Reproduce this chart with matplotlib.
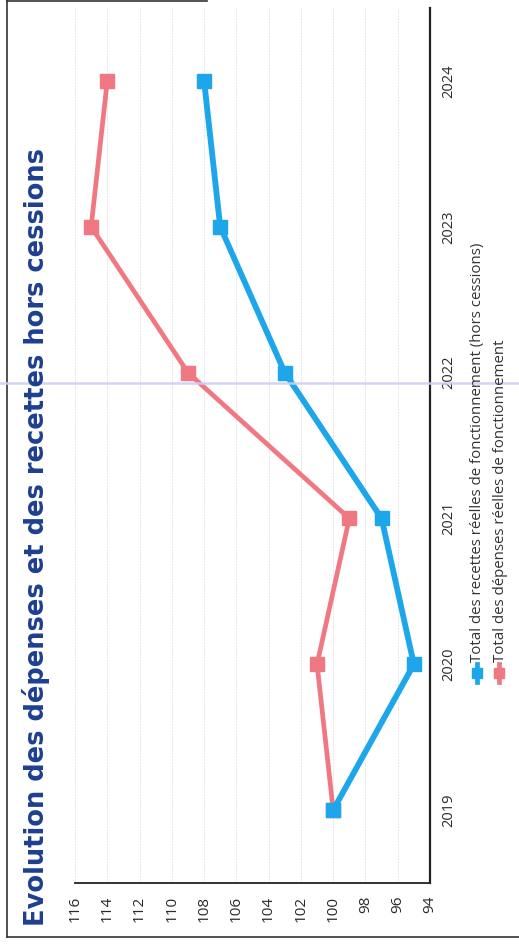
import numpy as np
import matplotlib
matplotlib.use("Agg")
import matplotlib.pyplot as plt
from matplotlib.lines import Line2D

# Evolution des recettes / depenses de fonctionnement (page tournee a 90 degres)
annees = ["2019", "2020", "2021", "2022", "2023", "2024"]
recettes = [100, 95, 97, 103, 107, 108]
depenses = [100, 101, 99, 109, 115, 114]
graduations = [94, 96, 98, 100, 102, 104, 106, 108, 110, 112, 114, 116]

titre = "Evolution des dépenses et des recettes hors cessions"
lib_recettes = "Total des recettes réelles de fonctionnement (hors cessions)"
lib_depenses = "Total des dépenses réelles de fonctionnement"

BLEU = "#1ea6ea"
ROSE = "#f07883"
W, H = 519, 951


def fx(px):
    return px / W


def fy(py):
    return 1 - py / H


fig = plt.figure(figsize=(W / 100, H / 100), dpi=100)
fig.patch.set_facecolor("white")
ax = fig.add_axes([fx(75), fy(883), fx(430) - fx(75), fy(8) - fy(883)])

pos = np.arange(len(annees))
ax.plot(depenses, pos, color=ROSE, lw=3.4, marker="s", ms=9.5, zorder=3)
ax.plot(recettes, pos, color=BLEU, lw=4.2, marker="s", ms=9.5, zorder=4)

ax.set_xlim(116, 94)
ax.set_ylim(-0.5, len(annees) - 0.5)
ax.set_xticks(graduations)
ax.set_xticklabels([str(g) for g in graduations], rotation=90, fontsize=11,
                   family="Open Sans", color="#2a2a2a")
ax.set_yticks(pos)
ax.set_yticklabels(annees, rotation=90, va="center", fontsize=10.5,
                   family="Open Sans", color="#2a2a2a")
ax.yaxis.tick_right()
ax.tick_params(axis="x", length=0, pad=9)
ax.tick_params(axis="y", length=0, pad=8)

ax.grid(axis="x", color="#e6e6e6", lw=0.7, ls=(0, (2, 1)))
ax.set_axisbelow(True)
for s in ["top", "left"]:
    ax.spines[s].set_visible(False)
ax.spines["bottom"].set_color("#222222")
ax.spines["bottom"].set_linewidth(1.3)
ax.spines["right"].set_color("#222222")
ax.spines["right"].set_linewidth(1.6)

# titre vertical
fig.text(fx(36), fy(926), titre, rotation=90, ha="center", va="bottom",
         fontsize=18.5, fontweight="bold", color="#1d3f8f", family="DejaVu Sans")

# legende dessinee a la main (verticale)
for xc, col, lib in [(477, BLEU, lib_recettes), (499, ROSE, lib_depenses)]:
    fig.add_artist(Line2D([fx(xc), fx(xc)], [fy(682), fy(664)], color=col, lw=3.4))
    fig.add_artist(Line2D([fx(xc)], [fy(673)], color=col, marker="s", ms=7))
    fig.text(fx(xc + 1), fy(662), lib, rotation=90, ha="center", va="bottom",
             fontsize=10.8, family="Open Sans", color="#333333")

# cadre de la page
cadre = dict(color="#333333", lw=1.2)
fig.add_artist(Line2D([fx(7), fx(7)], [fy(0), fy(937)], **cadre))
fig.add_artist(Line2D([fx(7), fx(W)], [fy(937), fy(937)], **cadre))
fig.add_artist(Line2D([fx(7), fx(207)], [fy(1), fy(1)], **cadre))
fig.add_artist(Line2D([0, 1], [fy(383), fy(383)], color="#cfcff2", lw=1.8, alpha=0.9))

fig.savefig("out.png", dpi=100)
